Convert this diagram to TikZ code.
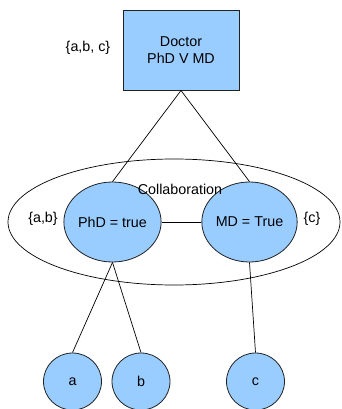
\documentclass[tikz,border=0pt]{standalone}
\usepackage{fontspec}
\setmainfont{Liberation Sans}
\usetikzlibrary{shapes.geometric}
\definecolor{fillblue}{HTML}{99CCFF}
\definecolor{edge}{HTML}{222222}
\begin{document}
\begin{tikzpicture}[x=1pt,y=-1pt,
  every node/.style={font=\fontsize{14.3}{16.7}\selectfont, text=black},
  bluecirc/.style={ellipse, draw=edge, fill=fillblue, line width=0.8pt, inner sep=0pt},
  conn/.style={draw=black, line width=0.7pt},
  lbl/.style={inner sep=0pt}]
\useasboundingbox (0,0) rectangle (341,409);
\node[ellipse, draw=black, line width=0.7pt, minimum width=332, minimum height=126, inner sep=0pt] (collab) at (174,222) {};
\node[rectangle, draw=edge, fill=fillblue, line width=0.9pt, minimum width=116, minimum height=80, inner sep=0pt, align=center] (doc) at (181,50) {Doctor\\PhD V MD};
\node[bluecirc, minimum width=91, minimum height=80] (phd) at (112.5,222) {PhD = true};
\node[bluecirc, minimum width=91, minimum height=80] (md) at (249.5,222) {MD = True};
\node[bluecirc, minimum width=58, minimum height=57] (a) at (72.5,381.5) {a};
\node[bluecirc, minimum width=58, minimum height=57] (b) at (141,381.5) {b};
\node[bluecirc, minimum width=58, minimum height=57] (c) at (255.5,381.5) {c};
\node[lbl] (collabtxt) at (180,189) {Collaboration};
\node[lbl] (abc) at (88,48) {\{a,b, c\}};
\node[lbl] (ab) at (43,219) {\{a,b\}};
\node[lbl] (cc) at (312,219) {\{c\}};
\draw[conn] (doc.south) -- (phd.north);
\draw[conn] (doc.south) -- (md.north);
\draw[conn] (phd.east) -- (md.west);
\draw[conn] (phd.south) -- (a.north);
\draw[conn] (phd.south) -- (b.north);
\draw[conn] (md.south) -- (c.north);
\end{tikzpicture}
\end{document}
